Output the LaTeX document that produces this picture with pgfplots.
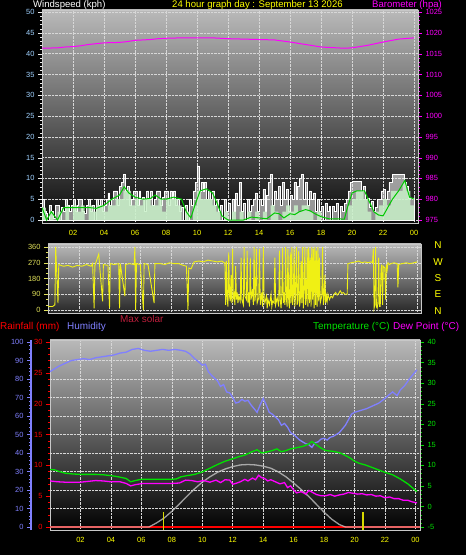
\documentclass[border=0pt]{standalone}
\usepackage{pgfplots}
\pgfplotsset{compat=1.18}
\usepackage{fontspec}
\setmainfont{Liberation Sans}
\definecolor{ylw}{RGB}{255,255,0}
\definecolor{mag}{RGB}{255,0,255}
\definecolor{ltblue}{RGB}{160,210,255}
\definecolor{hum}{RGB}{128,128,255}
\definecolor{tgreen}{RGB}{0,225,0}
\definecolor{avggreen}{RGB}{0,200,0}
\definecolor{lgreen}{RGB}{200,240,200}
\definecolor{dirylw}{RGB}{240,240,20}
\definecolor{dirlab}{RGB}{225,225,90}
\definecolor{msol}{RGB}{190,30,60}
\definecolor{framec}{RGB}{200,200,200}
\definecolor{gridc}{RGB}{215,215,215}
\definecolor{bgtop}{RGB}{185,185,185}
\definecolor{bgbot}{RGB}{10,10,10}
\definecolor{solarc}{RGB}{205,205,205}
\pgfplotsset{
  every axis/.append style={
    scale only axis,
    /pgf/number format/assume math mode=true,
    /pgf/number format/1000 sep={},
    tick label style={font=\fontsize{7.5}{8}\selectfont},
    tick align=outside,
    major tick length=4bp,
    minor tick length=2bp,
    clip=true,
  },
}
\begin{document}
\begin{tikzpicture}
\fill[black] (0,0) rectangle (466bp,555bp);

% ---------------- top panel: wind speed ----------------
\begin{axis}[
  at={(42bp,332bp)}, anchor=south west,
  width=376bp, height=213bp,
  xmin=0, xmax=24.25, ymin=-0.72, ymax=50.5,
  axis background/.style={shade, top color=bgtop, bottom color=bgbot},
  axis line style={framec},
  xtick={2,4,...,24}, xticklabels={02,04,06,08,10,12,14,16,18,20,22,00},
  xticklabel style={ylw},
  xtick style={draw=none},
  xtick pos=left,
  ytick={0,5,...,50}, minor y tick num=4,
  yticklabel style={ltblue},
  ytick style={white!85!gray},
  ytick pos=left,
  grid=major, major grid style={gridc, densely dotted, line width=0.5bp},
]
\addplot[const plot, draw=white, line width=0.7bp, fill=white!85!gray, fill opacity=0.6] coordinates {
(0,5)(0.125,2)(0.25,1.5)(0.375,0)(0.5,3.5)(0.625,2)(0.75,0.5)(0.875,3.5)(1,3.5)(1.125,0)(1.25,3)(1.375,2)(1.5,5)(1.625,3.5)(1.75,2)(1.875,3.5)(2,5)(2.125,2)(2.25,3.5)(2.375,5)(2.5,5)(2.625,2)(2.75,1.5)(2.875,3.5)(3,5)(3.125,2)(3.25,3.5)(3.375,0)(3.5,5)(3.625,3.5)(3.75,5)(3.875,2)(4,3.5)(4.125,5)(4.25,6.5)(4.375,3.5)(4.5,5)(4.625,7)(4.75,7)(4.875,3.5)(5,8)(5.125,9)(5.25,11)(5.375,7)(5.5,8)(5.625,3.5)(5.75,5)(5.875,7)(6,7)(6.125,3.5)(6.25,7)(6.375,5)(6.5,5.5)(6.625,2)(6.75,7)(6.875,5)(7,7)(7.125,3.5)(7.25,5)(7.375,7)(7.5,7)(7.625,3.5)(7.75,5.5)(7.875,7)(8,7)(8.125,3.5)(8.25,7)(8.375,5)(8.5,7)(8.625,3.5)(8.75,5)(8.875,2)(9,3)(9.125,0)(9.25,3.5)(9.375,0)(9.5,5)(9.625,3.5)(9.75,7)(9.875,9)(10,13)(10.125,7)(10.25,9)(10.375,7)(10.5,9)(10.625,5)(10.75,7)(10.875,5)(11,7)(11.125,3.5)(11.25,5)(11.375,2)(11.5,3.5)(11.625,0)(11.75,5)(11.875,2)(12,4)(12.125,0)(12.25,5)(12.375,2)(12.5,6.5)(12.625,3.5)(12.75,9)(12.875,2)(13,4)(13.125,0)(13.25,5)(13.375,2)(13.5,3.5)(13.625,5)(13.75,6.5)(13.875,2)(14,5)(14.125,3.5)(14.25,7.3)(14.375,2)(14.5,6)(14.625,9)(14.75,11)(14.875,3.5)(15,7)(15.125,5)(15.25,8)(15.375,3.5)(15.5,9)(15.625,5)(15.75,7.3)(15.875,2)(16,6)(16.125,5)(16.25,9)(16.375,5)(16.5,8)(16.625,10)(16.75,11)(16.875,5)(17,9)(17.125,3.5)(17.25,7)(17.375,5)(17.5,6.5)(17.625,2)(17.75,5)(17.875,2)(18,3.3)(18.125,0)(18.25,4)(18.375,2)(18.5,3.3)(18.625,0)(18.75,3.3)(18.875,2)(19,4)(19.125,0)(19.25,3.3)(19.375,2)(19.5,4)(19.625,5)(19.75,7)(19.875,9)(20,9.3)(20.25,9.3)(20.5,9.3)(20.625,7)(20.75,8)(20.875,5)(21,5.3)(21.125,3)(21.25,4.6)(21.375,2)(21.5,3)(21.625,5)(21.75,5)(21.875,7)(22,7.3)(22.125,5)(22.25,7)(22.375,9)(22.5,9)(22.625,11)(22.75,11)(23,11)(23.25,11)(23.375,9)(23.5,8)(23.625,5.3)(23.75,5.3)(24,5.3)
} \closedcycle;
\addplot[const plot, draw=none, fill=lgreen, fill opacity=0.85] coordinates {
(0,3) (0.25,0) (0.5,2) (0.75,0) (1,2) (1.25,0) (1.5,3.5) (1.75,0) (2,3.5) (2.25,2) (2.5,3.5) (2.75,0) (3,3.5) (3.25,2) (3.5,3.5) (3.75,3.5) (4,2) (4.25,3.5) (4.5,3.5) (4.75,5) (5,5) (5.25,7) (5.5,7) (5.75,3.5) (6,5) (6.25,3.5) (6.5,5) (6.75,5) (7,3.5) (7.25,3.5) (7.5,5) (7.75,2) (8,5) (8.25,5) (8.5,5) (8.75,3.5) (9,0) (9.25,2) (9.5,0) (9.75,3.5) (10,7) (10.25,5) (10.5,5) (10.75,5) (11,3.5) (11.25,2) (11.5,0) (11.75,2) (12,0) (12.25,2) (12.5,0) (12.75,2) (13,0) (13.25,2) (13.5,0) (13.75,2) (14,0) (14.25,2) (14.5,0) (14.75,3.5) (15,2) (15.25,0) (15.5,2) (15.75,3.5) (16,2) (16.25,3.5) (16.5,2) (16.75,3.5) (17,3.5) (17.25,2) (17.5,0) (17.75,2) (18,0) (18.25,0) (18.5,0) (18.75,0) (19,0) (19.25,0) (19.5,0) (19.75,3.5) (20,5) (20.25,7) (20.5,7) (20.75,5) (21,2) (21.25,0) (21.5,2) (21.75,3.5) (22,5) (22.25,3.5) (22.5,7) (22.75,7) (23,7) (23.25,9) (23.5,7) (23.75,3.5) (24,3.5)
} \closedcycle;
\addplot[avggreen, line width=1bp] coordinates {
(0,3) (0.3,0) (0.6,2) (1,0) (1.4,3) (2,3) (2.5,3) (3,3) (3.5,2.8) (4,3.5) (4.5,5) (5,6) (5.3,8) (5.6,6.5) (6,5.5) (6.5,5) (7,5.2) (7.3,6) (7.7,5) (8,5) (8.5,5.5) (9,5) (9.3,2) (9.6,0.5) (9.9,4) (10.2,7) (10.6,7.5) (11,6.5) (11.3,4) (11.6,1) (12,0) (12.5,0) (13,0) (13.5,0.7) (14,0.5) (14.5,0.3) (15,1.7) (15.3,1.5) (15.6,0.5) (16,1.5) (16.3,1.3) (16.6,2) (17,2.5) (17.3,2.2) (17.6,1.5) (18,0.8) (18.5,0.3) (19,0.3) (19.5,0.2) (19.7,3) (20,6.5) (20.3,7) (20.8,7) (21.1,4.5) (21.4,2) (21.7,1.2) (22,1) (22.3,3) (22.6,5) (23,7) (23.4,9.5) (23.7,5.5) (24,5)
};
\end{axis}

\begin{axis}[
  at={(42bp,332bp)}, anchor=south west,
  width=376bp, height=213bp,
  xmin=0, xmax=24.25, ymin=974.28, ymax=1025.5,
  axis x line=none, axis y line*=right,
  axis line style={framec},
  ytick={975,980,...,1025}, minor y tick num=4,
  yticklabel style={mag}, ytick style={mag},
]
\addplot[mag, line width=1bp] coordinates {
(0,1016.3) (1,1016.4) (1.5,1016.6) (2,1016.7) (2.5,1016.9) (3,1017.2) (3.5,1017.4) (4,1017.6) (5,1017.7) (5.5,1017.9) (6,1018.2) (7,1018.4) (7.5,1018.6) (8,1018.7) (9,1018.8) (10,1018.8) (11,1018.8) (12,1018.6) (13,1018.5) (14,1018.4) (15,1018.3) (16,1017.8) (17,1017.2) (18,1016.6) (19,1016.4) (19.5,1016.3) (20,1016.4) (21,1017.0) (22,1017.8) (23,1018.5) (24,1018.8)
};
\end{axis}

% ---------------- middle panel: wind direction ----------------
\begin{axis}[
  at={(48bp,242bp)}, anchor=south west,
  width=373bp, height=69bp,
  xmin=0, xmax=24.25, ymin=-17.1, ymax=377.2,
  axis background/.style={shade, top color=bgtop, bottom color=black!85},
  axis line style={framec},
  xtick={2,4,...,24}, xticklabels={}, xtick style={draw=none},
  ytick={0,90,180,270,360}, minor y tick num=2,
  yticklabel style={dirlab}, ytick style={dirlab},
  ytick pos=left,
  grid=major, major grid style={gridc, densely dotted, line width=0.5bp},
]
\addplot[dirylw, line width=0.9bp] coordinates {
(0,20) (0.3,20) (0.45,30) (0.5,360) (0.55,250) (0.65,40) (0.7,260) (1.0,250) (1.3,255) (1.6,245) (1.9,255) (2.2,250) (2.5,260) (2.8,250) (2.9,265) (3.0,10) (3.05,255) (3.3,320) (3.35,260) (3.55,50) (3.6,260) (3.9,255) (4.0,10) (4.05,265) (4.3,260) (4.6,265) (4.65,10) (4.7,265) (5.0,80) (5.05,260) (5.3,265) (5.6,260) (5.65,360) (5.7,0) (5.75,265) (6.0,260) (6.2,0) (6.25,265) (6.5,260) (6.9,40) (6.95,265) (7.3,265) (7.6,260) (7.9,270) (8.2,265) (8.5,265) (8.8,255) (9.0,250) (9.1,0) (9.15,240) (9.3,235) (9.5,275) (9.8,280) (10.1,275) (10.4,285) (10.7,280) (11.0,275) (11.3,280) (11.45,270)
(11.5,270) (11.55,30) (11.6,280) (11.65,60) (11.7,20) (11.75,330) (11.8,80) (11.85,50) (11.9,200) (11.95,40) (12.0,350) (12.05,70) (12.1,90) (12.15,30) (12.2,250) (12.25,60) (12.3,100) (12.35,40) (12.4,80) (12.5,50) (12.55,300) (12.6,60) (12.7,30) (12.75,360) (12.8,80) (12.9,60) (12.95,340) (13.0,40) (13.05,100) (13.1,20) (13.15,300) (13.2,60) (13.3,120) (13.35,30) (13.4,360) (13.45,50) (13.5,90) (13.55,350) (13.6,40) (13.7,70) (13.75,350) (13.8,30) (13.9,100) (13.95,20) (14.0,360) (14.05,60) (14.1,40) (14.2,80) (14.25,10) (14.3,60) (14.4,30) (14.5,90) (14.55,20) (14.6,50) (14.7,40) (14.75,300) (14.8,30) (14.9,70) (15.0,20) (15.05,340) (15.1,60) (15.15,10) (15.2,80) (15.25,355) (15.3,40) (15.35,100) (15.4,30) (15.45,360) (15.5,60) (15.55,20) (15.6,350) (15.65,50) (15.7,10) (15.75,330) (15.8,40) (15.85,360) (15.9,30) (15.95,80) (16.0,350) (16.05,20) (16.1,90) (16.15,360) (16.2,30) (16.25,60) (16.3,340) (16.35,20) (16.4,50) (16.45,280) (16.5,40) (16.55,360) (16.6,10) (16.65,100) (16.7,360) (16.75,30) (16.8,70) (16.85,350) (16.9,20) (16.95,360) (17.0,40) (17.05,300) (17.1,20) (17.15,360) (17.2,60) (17.25,350) (17.3,10) (17.35,360) (17.4,30) (17.45,340) (17.5,20) (17.55,360) (17.6,50) (17.65,300) (17.7,40) (17.8,80) (17.85,360) (17.9,30) (17.95,60) (18.0,200) (18.05,40) (18.1,80) (18.15,50) (18.2,90) (18.3,60)
(18.4,80) (18.5,70) (18.6,90) (18.7,100) (18.8,85) (18.9,95) (19.0,110) (19.1,95) (19.2,100) (19.3,90) (19.45,90) (19.5,265) (19.7,270) (20,275) (20.2,280) (20.4,270) (20.6,275) (20.8,270) (21.0,275) (21.1,270) (21.15,350) (21.2,10) (21.25,30) (21.3,360) (21.35,20) (21.4,10) (21.45,40) (21.5,300) (21.55,20) (21.6,20) (21.65,230) (21.7,260) (21.75,30) (21.8,250) (21.9,240) (21.95,60) (22.0,260) (22.05,230) (22.1,270) (22.2,260) (22.3,265) (22.5,270) (22.7,265) (22.75,130) (22.8,260) (23.0,265) (23.3,270) (23.5,265) (23.8,270) (24,275)
};
\end{axis}

% ---------------- bottom panel ----------------
\begin{axis}[
  at={(50bp,25bp)}, anchor=south west,
  width=370bp, height=190bp,
  xmin=0, xmax=24.3, ymin=-0.49, ymax=30.33,
  axis background/.style={shade, top color=bgtop, bottom color=black},
  axis line style={framec},
  xtick={2,4,...,24}, xticklabels={02,04,06,08,10,12,14,16,18,20,22,00},
  xticklabel style={ylw},
  xtick style={draw=none}, xtick pos=left,
  ytick={0,5,...,30}, minor y tick num=4,
  yticklabel style={red}, ytick style={red},
  ytick pos=left,
  xmajorgrids=true, ymajorgrids=false,
  major grid style={gridc, densely dotted, line width=0.5bp},
  extra y ticks={3,6,9,12,15,18,21,24,27},
  extra y tick labels={},
  extra y tick style={grid=major, tick style={draw=none}},
]
\addplot[red, line width=2bp] coordinates {(0,0) (24.3,0)};
\end{axis}

\begin{axis}[
  at={(31bp,25bp)}, anchor=south west,
  width=389bp, height=190bp,
  xmin=-1.248, xmax=24.3, ymin=-1.62, ymax=101.09,
  axis x line=none, axis y line*=left,
  axis line style={hum, line width=2bp},
  ytick={0,10,...,100}, minor y tick num=4,
  yticklabel style={hum}, ytick style={hum, line width=0.6bp},
]
\addplot[hum, line width=1.3bp] coordinates {
(0.0,84) (0.3,85.5) (0.6,87) (1.0,88.5) (1.4,90) (1.8,90.5) (2.2,91) (2.6,90.5) (3.0,91.5) (3.4,92) (3.8,92.5) (4.2,93) (4.6,94) (5.0,94.5) (5.4,96) (5.8,96.5) (6.2,95.5) (6.6,95) (7.0,95.5) (7.4,96) (7.8,95.5) (8.2,96) (8.6,95.5) (8.9,95) (9.2,93.5) (9.5,91) (9.8,89) (10.0,87.5) (10.2,88) (10.4,84) (10.6,82) (10.8,80.5) (11.0,79) (11.2,76) (11.4,77) (11.6,73) (11.8,72.5) (12.0,70) (12.2,67) (12.4,67.5) (12.6,69) (12.8,68) (13.0,68.5) (13.2,66) (13.4,64) (13.6,62) (13.8,66) (14.0,69.5) (14.2,66) (14.4,62) (14.6,61) (14.8,59.5) (15.0,58) (15.2,55) (15.4,56) (15.6,54) (15.8,51) (16.0,50) (16.2,48.5) (16.4,47) (16.6,46) (16.8,45) (17.0,44.5) (17.2,43) (17.4,45.5) (17.6,46) (17.8,47.5) (18.0,48) (18.2,47) (18.4,48.5) (18.6,49) (18.8,50) (19.0,51) (19.2,53) (19.4,55) (19.6,58) (19.8,61) (20.0,62) (20.4,63) (20.8,64) (21.2,65.5) (21.6,67) (22.0,69.5) (22.2,71) (22.5,73) (22.8,71) (23.0,74) (23.3,76.5) (23.6,80) (23.9,83) (24.1,85)
};
\end{axis}

\begin{axis}[
  at={(50bp,25bp)}, anchor=south west,
  width=370bp, height=190bp,
  xmin=0, xmax=24.3, ymin=-5.73, ymax=40.49,
  axis x line=none, axis y line*=right,
  axis line style={framec},
  ytick={-5,0,...,40}, minor y tick num=4,
  yticklabel style={tgreen}, ytick style={tgreen},
]
\addplot[solarc, line width=1.3bp, opacity=0.75] coordinates {
(0,-5) (6.5,-5) (7.0,-4.0) (7.5,-2.8) (8.0,-1.2) (8.5,0.6) (9.0,2.5) (9.5,4.3) (10.0,5.9) (10.5,7.2) (11.0,8.3) (11.5,9.1) (12.0,9.7) (12.5,10.1) (13.0,10.2) (13.5,10.1) (14.0,9.8) (14.5,9.3) (15.0,8.4) (15.5,7.2) (16.0,5.7) (16.5,4.1) (17.0,2.4) (17.5,0.5) (18.0,-1.4) (18.5,-3.1) (19.0,-4.4) (19.4,-5) (24.3,-5)
};
\addplot[tgreen, line width=1.3bp] coordinates {
(0.0,9.0) (0.3,8.9) (0.6,8.5) (1.0,8.1) (1.5,7.9) (2.0,7.8) (2.5,7.8) (3.0,7.8) (3.5,7.7) (4.0,7.5) (4.5,7.2) (5.0,6.8) (5.3,6.0) (5.6,6.3) (6.0,6.6) (7.0,6.6) (8.0,6.6) (8.3,6.7) (8.6,7.2) (9.0,7.5) (9.5,7.8) (10.0,8.4) (10.5,9.3) (11.0,10.2) (11.5,11.0) (12.0,11.6) (12.4,12.1) (12.8,12.5) (13.2,13.2) (13.6,13.8) (13.9,13.0) (14.2,13.2) (14.6,13.6) (14.9,14.0) (15.2,13.3) (15.5,13.6) (15.8,14.0) (16.2,14.3) (16.6,14.6) (17.0,15.2) (17.2,15.8) (17.5,15.0) (17.8,14.2) (18.1,13.6) (18.6,13.4) (19.0,13.1) (19.3,12.6) (19.7,11.8) (20.0,11.0) (20.3,10.5) (20.7,10.1) (21.0,9.7) (21.5,9.0) (22.0,8.3) (22.5,7.7) (23.0,6.7) (23.5,5.5) (24.1,3.6)
};
\addplot[mag, line width=1.3bp] coordinates {
(0.0,6.2) (0.5,6.0) (1.0,5.9) (1.5,5.9) (2.0,5.9) (2.5,6.1) (3.0,6.3) (3.5,6.2) (4.0,6.0) (4.6,6.0) (5.0,5.6) (5.3,5.0) (5.6,5.3) (6.1,5.6) (7.0,5.6) (8.0,5.6) (8.5,5.7) (8.9,6.4) (9.3,6.3) (9.7,6.0) (10.1,6.3) (10.5,5.9) (10.9,6.4) (11.2,5.8) (11.5,6.5) (11.8,6.4) (12.0,5.4) (12.2,5.6) (12.5,6.0) (12.8,6.6) (13.0,6.2) (13.3,6.9) (13.5,6.5) (13.7,7.6) (13.9,7.0) (14.1,6.8) (14.3,6.2) (14.5,6.5) (14.8,6.0) (15.1,5.5) (15.4,5.8) (15.6,4.6) (15.8,5.0) (16.0,4.0) (16.2,3.3) (16.5,3.6) (16.8,3.0) (17.0,3.9) (17.2,3.5) (17.5,2.9) (17.8,2.6) (18.1,2.6) (18.4,2.9) (18.7,2.5) (19.0,2.8) (19.3,3.0) (19.6,3.4) (19.9,3.2) (20.2,3.0) (20.5,3.1) (20.8,2.8) (21.1,2.9) (21.4,2.5) (21.7,2.6) (22.0,2.1) (22.3,2.3) (22.6,1.9) (22.9,1.9) (23.2,1.5) (23.5,1.5) (23.8,1.1) (24.1,0.9)
};
\addplot[ylw!85!black, line width=1.2bp] coordinates {(7.45,-5.73) (7.45,-1.35)};
\addplot[ylw!85!black, line width=1.2bp] coordinates {(20.55,-5.73) (20.55,-1.35)};
\end{axis}

% ---------------- titles and legends ----------------
\begin{scope}[every node/.style={inner sep=0pt, font=\fontsize{10}{12}\selectfont}]
\node[anchor=base west, white, font=\fontsize{9.6}{11}\selectfont] at (33bp,547.5bp) {Windspeed (kph)};
\node[anchor=base west, ylw, font=\fontsize{9.6}{11}\selectfont] at (172bp,547.5bp) {24 hour graph day : September 13 2026};
\node[anchor=base west, mag, font=\fontsize{9.6}{11}\selectfont] at (372bp,547.5bp) {Barometer (hpa)};
\node[ylw] at (438bp,310bp) {N};
\node[ylw] at (438bp,292.5bp) {W};
\node[ylw] at (438bp,277bp) {S};
\node[ylw] at (438bp,260.5bp) {E};
\node[ylw] at (438bp,244bp) {N};
\node[anchor=base west, msol] at (120bp,232bp) {Max solar};
\node[anchor=base west, red] at (0bp,225bp) {Rainfall (mm)};
\node[anchor=base west, hum] at (67bp,225bp) {Humidity};
\node[anchor=base west, tgreen] at (313bp,225bp) {Temperature (°C)};
\node[anchor=base west, mag] at (393bp,225bp) {Dew Point (°C)};
\end{scope}
\pgfresetboundingbox
\useasboundingbox (0,0) rectangle (466bp,555bp);
\end{tikzpicture}
\end{document}
